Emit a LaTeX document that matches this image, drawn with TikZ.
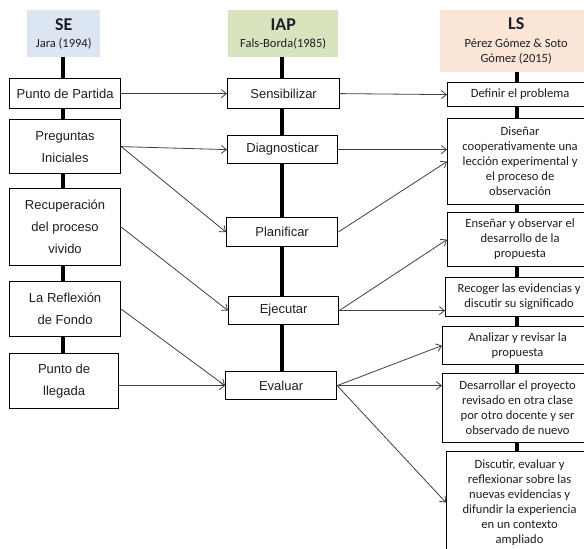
\documentclass[tikz,border=0pt]{standalone}
\usepackage{fontspec}
\setmainfont{Liberation Sans}
\newfontfamily\calibri{Carlito}
\usetikzlibrary{arrows.meta}

\definecolor{sefill}{HTML}{DCE6F2}
\definecolor{iapfill}{HTML}{D7E4BD}
\definecolor{lsfill}{HTML}{FBE5D6}
\definecolor{linec}{HTML}{404040}
\definecolor{textc}{HTML}{1E1E2A}

\tikzstyle{headbox} = [rectangle, anchor=north west, align=center,
    inner sep=0pt, text=textc, font=\calibri\fontsize{12.5}{17}\selectfont]
\tikzstyle{sebox} = [draw=black, fill=white, line width=1.2pt,
    rectangle, anchor=north west, align=center, inner sep=0pt,
    text=textc, font=\fontsize{13}{22}\selectfont]
\tikzstyle{lsbox} = [sebox, font=\calibri\fontsize{12.6}{15}\selectfont]
\tikzstyle{spine} = [line width=3.5pt, black]
\tikzstyle{link} = [draw=linec, line width=0.8pt,
    -{Straight Barb[length=5pt,width=8pt]}]

\begin{document}
\begin{tikzpicture}[x=1pt, y=-1pt]
\useasboundingbox (0,0) rectangle (584,549);

% column axes
\coordinate (sex) at (63,0);
\coordinate (iapx) at (282,0);
\coordinate (lsx) at (517,0);

% SE
\node [headbox, fill=sefill, minimum width=73, minimum height=47] (se) at (27,10)
    {{\fontsize{18}{17}\selectfont\bfseries SE}\\Jara (1994)};
\node [sebox, minimum width=111, minimum height=30] (se1) at (9,78) {Punto de Partida};
\node [sebox, minimum width=111, minimum height=54] (se2) at (9,119) {Preguntas\\Iniciales};
\node [sebox, minimum width=111, minimum height=77] (se3) at (9,188) {Recuperación\\del proceso\\vivido};
\node [sebox, minimum width=111, minimum height=55] (se4) at (9,281) {La Reflexión\\de Fondo};
\node [sebox, minimum width=109, minimum height=55] (se5) at (9,353) {Punto de\\llegada};

% IAP
\node [headbox, fill=iapfill, minimum width=110, minimum height=47] (iap) at (228,10)
    {{\fontsize{18}{17}\selectfont\bfseries IAP}\\Fals-Borda(1985)};
\node [sebox, minimum width=112, minimum height=30] (iap1) at (227,78) {Sensibilizar};
\node [sebox, minimum width=110, minimum height=28] (iap2) at (227,135) {Diagnosticar};
\node [sebox, minimum width=111, minimum height=29] (iap3) at (226,217) {Planificar};
\node [sebox, minimum width=110, minimum height=28] (iap4) at (228,296) {Ejecutar};
\node [sebox, minimum width=111, minimum height=28] (iap5) at (225,371) {Evaluar};

% LS
\node [headbox, fill=lsfill, minimum width=152, minimum height=62] (ls) at (440,10)
    {{\fontsize{18}{17}\selectfont\bfseries LS}\\[1pt]Pérez Gómez \& Soto\\[-2pt]Gómez (2015)};
\node [lsbox, minimum width=145, minimum height=24] (ls1) at (447,82) {Definir el problema};
\node [lsbox, minimum width=145, minimum height=86] (ls2) at (447,118)
    {Diseñar\\cooperativamente una\\lección experimental y\\el proceso de\\observación};
\node [lsbox, minimum width=145, minimum height=54] (ls3) at (447,212)
    {Enseñar y observar el\\desarrollo de la\\propuesta};
\node [lsbox, minimum width=147, minimum height=39] (ls4) at (445,277)
    {Recoger las evidencias y\\discutir su significado};
\node [lsbox, minimum width=150, minimum height=38] (ls5) at (442,326)
    {Analizar y revisar la\\propuesta};
\node [lsbox, minimum width=150, minimum height=69] (ls6) at (442,373)
    {Desarrollar el proyecto\\revisado en otra clase\\por otro docente y ser\\observado de nuevo};
\node [lsbox, minimum width=146, minimum height=102] (ls7) at (446,451)
    {Discutir, evaluar y\\reflexionar sobre las\\nuevas evidencias y\\difundir la experiencia\\en un contexto\\ampliado};

% thick axes of each column
\foreach \a/\b in {se/se1, se1/se2, se2/se3, se3/se4, se4/se5}
    \draw [spine] (\a.south -| sex) -- (\b.north -| sex);
\foreach \a/\b in {iap/iap1, iap1/iap2, iap2/iap3, iap3/iap4, iap4/iap5}
    \draw [spine] (\a.south -| iapx) -- (\b.north -| iapx);
\foreach \a/\b in {ls/ls1, ls1/ls2, ls2/ls3, ls3/ls4, ls4/ls5, ls5/ls6, ls6/ls7}
    \draw [spine] (\a.south -| lsx) -- (\b.north -| lsx);

% SE -> IAP
\draw [link] (se1.east) -- (iap1.west);
\draw [link] (se2.east) -- (iap2.west);
\draw [link] (se2.east) -- (iap3.west);
\draw [link] (se3.east) -- (iap4.west);
\draw [link] (se4.east) -- (iap5.west);
\draw [link] (se5.east |- iap5.west) -- (iap5.west);

% IAP -> LS
\draw [link] (iap1.east) -- (ls1.west);
\draw [link] (iap2.east) -- (iap2.east -| ls2.west);
\draw [link] (iap3.east) -- (ls2.west);
\draw [link] (iap4.east) -- (ls3.west);
\draw [link] (iap4.east) -- (iap4.east -| ls4.west);
\draw [link] (iap5.east) -- (ls5.west);
\draw [link] (iap5.east) -- (iap5.east -| ls6.west);
\draw [link] (iap5.east) -- (ls7.west);
\end{tikzpicture}
\end{document}
